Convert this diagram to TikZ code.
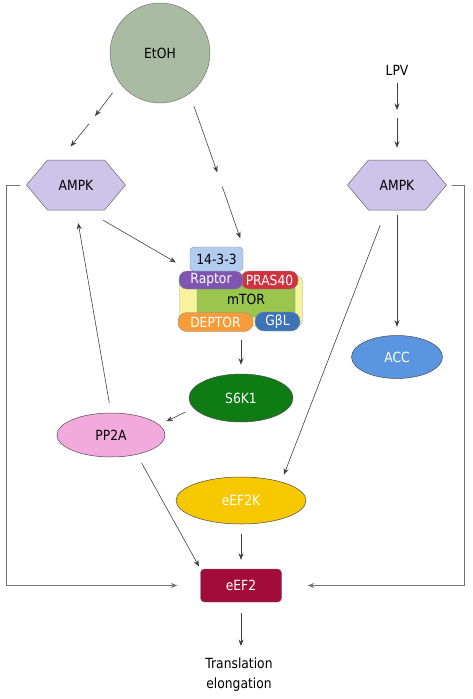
\documentclass[tikz,border=0pt]{standalone}
\usepackage{fontspec}
\setmainfont{DejaVu Sans}[FakeStretch=0.88]
\usepackage{xcolor}
\usetikzlibrary{shapes.geometric,shapes.symbols,positioning,calc,arrows.meta}

\definecolor{etohcol}{HTML}{A9BBA2}
\definecolor{ampkcol}{HTML}{CEC3E8}
\definecolor{ywcol}{HTML}{F6F39C}
\definecolor{onecol}{HTML}{B2CCF0}
\definecolor{raptcol}{HTML}{7F55B1}
\definecolor{prascol}{HTML}{CF3340}
\definecolor{mtorcol}{HTML}{9AC64D}
\definecolor{deptcol}{HTML}{F89C3A}
\definecolor{gblcol}{HTML}{3E73B8}
\definecolor{s6kcol}{HTML}{0E7B14}
\definecolor{ppcol}{HTML}{F2AADD}
\definecolor{acccol}{HTML}{5C95DF}
\definecolor{kcol}{HTML}{F7C800}
\definecolor{eefcol}{HTML}{A20C3A}

\begin{document}
\begin{tikzpicture}[x=1pt, y=-1pt, font=\fontsize{14}{20}\selectfont,
    arr/.style={draw=black!75, line width=0.6pt, -{Stealth[length=6.5pt,width=5pt]}},
    fb/.style={draw=black!55, line width=0.8pt, -{Stealth[length=6.5pt,width=5pt]}},
    oval/.style={ellipse, draw=black!70, line width=0.5pt, inner sep=0pt},
    hexa/.style={signal, signal to=east and west, signal pointer angle=100, draw=black!60,
        line width=0.5pt, fill=ampkcol, minimum width=99pt, minimum height=50pt, inner sep=0pt},
    part/.style={rectangle, draw=black!45, line width=0.4pt, inner sep=0pt, text=white}]
    \useasboundingbox (0,0) rectangle (472,699);

    % inputs
    \node[circle, draw=black!60, fill=etohcol, minimum size=100pt, inner sep=0pt] (etoh) at (160,53) {EtOH};
    \node (lpv) at (397,70) {LPV};

    % kinases
    \node[hexa] (ampkL) at (76,185) {AMPK};
    \node[hexa] (ampkR) at (397,185) {AMPK};

    % mTOR complex
    \node[part, fill=ywcol, draw=black!35, rounded corners=6pt, minimum width=123pt, minimum height=50pt] (cplx) at (241,301) {};
    \node[part, fill=mtorcol, text=black, rounded corners=5pt, minimum width=98pt, minimum height=35pt] (mtor) at (246,299.5) {mTOR};
    \node[part, fill=prascol, rounded corners=8pt, minimum width=57pt, minimum height=18pt] (pras) at (269.5,280) {PRAS40};
    \node[part, fill=raptcol, rounded corners=8pt, minimum width=64pt, minimum height=18pt] (rapt) at (211,280) {Raptor};
    \node[part, fill=onecol, text=black, rounded corners=4pt, minimum width=53pt, minimum height=24pt] (t1433) at (216.5,259) {14-3-3};
    \node[part, fill=deptcol, rounded corners=9pt, minimum width=75pt, minimum height=19pt] (dept) at (215.5,322) {DEPTOR};
    \node[part, fill=gblcol, rounded corners=9pt, minimum width=45pt, minimum height=19pt] (gbl) at (277.5,321.5) {GβL};

    % downstream
    \node[oval, fill=s6kcol, text=white, minimum width=104pt, minimum height=48pt] (s6k1) at (241,398) {S6K1};
    \node[oval, fill=ppcol, minimum width=108pt, minimum height=44pt] (pp2a) at (111,435) {PP2A};
    \node[oval, fill=acccol, text=white, minimum width=91pt, minimum height=43pt] (acc) at (397,357) {ACC};
    \node[oval, fill=kcol, text=white, minimum width=130pt, minimum height=47pt] (eef2k) at (241,500.5) {eEF2K};
    \node[rectangle, rounded corners=4pt, draw=black!60, fill=eefcol, text=white, minimum width=81pt, minimum height=33pt] (eef2) at (241,585.5) {eEF2};
    \node[align=center, inner sep=2pt] (trans) at (239,675) {Translation\\elongation};

    % break points of the two-step arrows
    \coordinate (bkL) at (92,120);
    \coordinate (bkM) at (220,180);
    \coordinate (bkR) at (397,114);

    % EtOH and LPV
    \draw[arr, shorten <=12pt, shorten >=5pt] (etoh.217) -- (bkL);
    \draw[arr, shorten <=5pt, shorten >=17pt] (bkL) -- ($(ampkL.north)+(-16,0)$);
    \draw[arr, shorten <=13pt, shorten >=8pt] (etoh.306) -- (bkM);
    \draw[arr, shorten <=7pt, shorten >=9pt] (bkM) -- (t1433.north east);
    \draw[arr, shorten <=4pt, shorten >=4pt] (lpv.south) -- (bkR);
    \draw[arr, shorten <=4pt, shorten >=12pt] (bkR) -- (ampkR.north);

    % left branch
    \draw[arr, shorten <=20pt, shorten >=11.5pt] ($(ampkL.south)+(10,0)$) -- ($(t1433.south west)+(-4,-3)$);
    \draw[arr, shorten <=14pt, shorten >=9pt] (cplx.south) -- (s6k1.north);
    \draw[arr, shorten <=9pt, shorten >=8pt] (s6k1.192) -- (pp2a.12);
    \draw[arr, shorten <=10pt, shorten >=13pt] (pp2a.north) -- (ampkL.south);
    \draw[arr, shorten <=9.6pt, shorten >=2.5pt] (pp2a.323) -- (eef2.north west);

    % right branch
    \draw[arr, shorten <=5pt, shorten >=8.5pt] (ampkR.south) -- (acc.north);
    \draw[arr, shorten <=16pt, shorten >=7.5pt] ($(ampkR.south)+(-11,0)$) -- (eef2k.25);
    \draw[arr, shorten <=10pt, shorten >=9pt] (eef2k.south) -- (eef2.north);
    \draw[arr, shorten <=11pt, shorten >=10pt] (eef2.south) -- (eef2.south |- trans.north);

    % feedback lines
    \draw[fb, shorten <=6pt, shorten >=23pt] (ampkL.west) -- ++(-20,0) |- (eef2.west);
    \draw[fb, shorten <=5pt, shorten >=26pt] (ampkR.east) -- ++(18,0) |- (eef2.east);
\end{tikzpicture}
\end{document}
